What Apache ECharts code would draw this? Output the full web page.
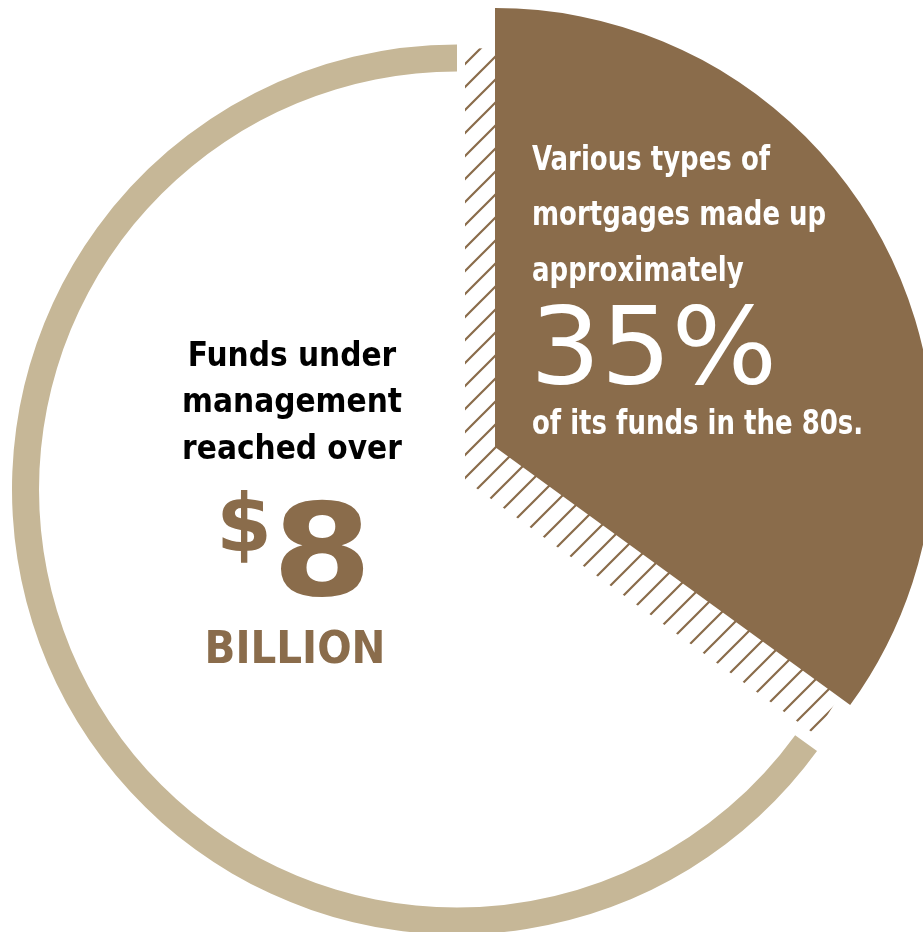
<!DOCTYPE html>
<html>
<head>
<meta charset="utf-8">
<script src="https://cdn.jsdelivr.net/npm/echarts@6/dist/echarts.min.js"></script>
<style>
  html, body { margin: 0; padding: 0; background: #fff; }
  #myChart { width: 923px; height: 932px; }
</style>
</head>
<body>
<div id="myChart"></div>
<script>
// share of funds: mortgages vs everything else
var shareNames = ['Mortgages', 'Other'];
var shareValues = [35, 65];

var leftLines = ['Funds under', 'management', 'reached over'];
var bigAmount = '8';
var amountUnit = 'BILLION';
var rightLines = ['Various types of', 'mortgages made up', 'approximately'];
var bigPercent = '35%';
var rightTail = 'of its funds in the 80s.';

var brown = '#8a6c4b';
var beige = '#c6b797';

// hatch pattern for the "shadow" behind the mortgage slice
function hatchPattern() {
    var s = 23;
    var c = document.createElement('canvas');
    c.width = s; c.height = s;
    var ctx = c.getContext('2d');
    ctx.strokeStyle = brown;
    ctx.lineWidth = 2.2;
    ctx.beginPath();
    ctx.moveTo(-2, s + 2); ctx.lineTo(s + 2, -2);
    ctx.moveTo(-2, 2); ctx.lineTo(2, -2);
    ctx.moveTo(s - 2, s + 2); ctx.lineTo(s + 2, s - 2);
    ctx.stroke();
    return { image: c, repeat: 'repeat' };
}

function sliceData(colors) {
    return shareValues.map(function (v, i) {
        return { name: shareNames[i], value: v, itemStyle: { color: colors[i], borderWidth: 0 } };
    });
}

var myChart = echarts.init(document.getElementById('myChart'));

var pieBase = {
    type: 'pie',
    startAngle: 90,
    clockwise: true,
    silent: true,
    label: { show: false },
    labelLine: { show: false },
    emphasis: { disabled: true }
};

var condensed = '"DejaVu Sans Condensed", sans-serif';

function txt(text, x, y, font, fill, align, sx) {
    return {
        type: 'text',
        z: 100,
        silent: true,
        x: x,
        y: y,
        scaleX: sx || 1,
        style: { text: text, x: 0, y: 0, font: font, fill: fill, textAlign: align, textVerticalAlign: 'middle' }
    };
}

var graphics = [];
leftLines.forEach(function (t, i) {
    graphics.push(txt(t, 292, 357 + i * 46.5, 'bold 33px ' + condensed, '#000', 'center'));
});
graphics.push(txt('$', 244, 530, 'bold 80px "DejaVu Sans", sans-serif', brown, 'center'));
graphics.push(txt(bigAmount, 322, 562, 'bold 128px "DejaVu Sans", sans-serif', brown, 'center', 1.12));
graphics.push(txt(amountUnit, 295, 651, 'bold 45px ' + condensed, brown, 'center'));
rightLines.forEach(function (t, i) {
    graphics.push(txt(t, 532, 161 + i * 55.5, 'bold 34px ' + condensed, '#fff', 'left', 0.85));
});
graphics.push(txt(bigPercent, 530, 355, '107px "DejaVu Sans", sans-serif', '#fff', 'left', 1.04));
graphics.push(txt(rightTail, 532, 425, 'bold 34px ' + condensed, '#fff', 'left', 0.85));

myChart.setOption({
    animation: false,
    series: [
        Object.assign({}, pieBase, {
            z: 1,
            center: [465, 480],
            radius: [0, 432],
            data: sliceData([hatchPattern(), 'transparent'])
        }),
        Object.assign({}, pieBase, {
            z: 2,
            center: [495, 447],
            radius: [0, 439],
            data: sliceData([brown, 'transparent'])
        }),
        Object.assign({}, pieBase, {
            z: 2,
            center: [457, 489.5],
            radius: [418, 445],
            data: sliceData(['transparent', beige])
        })
    ],
    graphic: graphics
});

window.onresize = function () {
    myChart.resize();
};
</script>
</body>
</html>
